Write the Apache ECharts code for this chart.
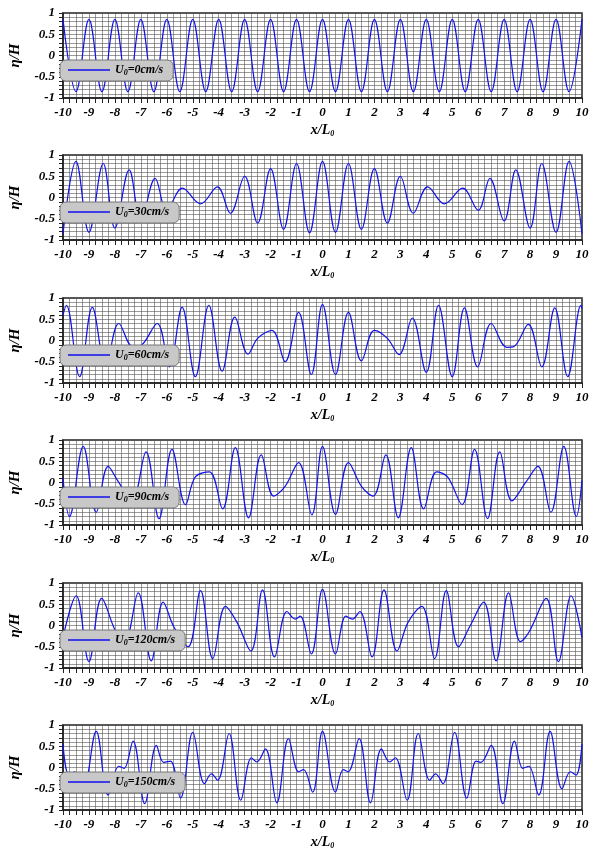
<!DOCTYPE html>
<html><head><meta charset="utf-8">
<script src="https://cdn.jsdelivr.net/npm/echarts@6/dist/echarts.min.js"></script>
<style>html,body{margin:0;padding:0;background:#fff}#c{width:600px;height:855px}</style>
</head><body><div id="c"></div>
<script>
const speeds = ['0','30','60','90','120','150'];
const xTickLabels = ['-10','-9','-8','-7','-6','-5','-4','-3','-2','-1','0','1','2','3','4','5','6','7','8','9','10'];
const yTickLabels = ['-1','-0.5','0','0.5','1'];

const p1x = [-10,-9.5,-9,-8.5,-8,-7.5,-7,-6.5,-6,-5.5,-5,-4.5,-4,-3.5,-3,-2.5,-2,-1.5,-1,-0.5,0,0.5,1,1.5,2,2.5,3,3.5,4,4.5,5,5.5,6,6.5,7,7.5,8,8.5,9,9.5,10];
const p1y = [0.85,-0.85,0.85,-0.85,0.85,-0.85,0.85,-0.85,0.85,-0.85,0.85,-0.85,0.85,-0.85,0.85,-0.85,0.85,-0.85,0.85,-0.85,0.85,-0.85,0.85,-0.85,0.85,-0.85,0.85,-0.85,0.85,-0.85,0.85,-0.85,0.85,-0.85,0.85,-0.85,0.85,-0.85,0.85,-0.85,0.85];

const p2x = [-10,-9.5,-9,-8.45,-8,-7.45,-7,-6.45,-6,-5.4,-4.7,-4.05,-3.55,-3,-2.5,-2,-1.5,-1,-0.5,0,0.5,1,1.5,2,2.5,3,3.5,4.05,4.7,5.4,6,6.45,7,7.45,8,8.45,9,9.5,10];
const p2y = [-0.85,0.85,-0.82,0.8,-0.72,0.65,-0.55,0.45,-0.3,0.22,-0.15,0.25,-0.37,0.5,-0.6,0.68,-0.75,0.8,-0.83,0.85,-0.82,0.8,-0.75,0.68,-0.6,0.5,-0.37,0.25,-0.15,0.22,-0.3,0.45,-0.55,0.65,-0.72,0.8,-0.82,0.85,-0.85];

const p3x = [-10,-9.87,-9.36,-8.87,-8.35,-7.85,-7.3,-7.0,-6.37,-5.9,-5.41,-4.9,-4.38,-3.87,-3.38,-2.87,-2.5,-1.95,-1.44,-0.92,-0.43,0,0.5,1.0,1.5,2.0,2.5,2.95,3.46,4.0,4.47,5.0,5.47,5.98,6.5,7.1,7.35,7.93,8.45,8.95,9.45,9.96,10];
const p3y = [0.6,0.83,-0.85,0.78,-0.6,0.4,-0.15,-0.12,0.4,-0.62,0.78,-0.85,0.83,-0.72,0.55,-0.32,0.05,0.24,-0.5,0.66,-0.8,0.85,-0.8,0.66,-0.48,0.24,0.05,-0.33,0.53,-0.75,0.83,-0.85,0.77,-0.62,0.4,-0.16,-0.15,0.38,-0.62,0.77,-0.85,0.83,0.75];

const p4x = [-10,-9.75,-9.22,-8.72,-8.26,-7.9,-7.35,-6.8,-6.3,-5.8,-5.28,-4.9,-4.36,-3.85,-3.36,-2.85,-2.36,-1.88,-1.44,-0.92,-0.41,0,0.5,1,1.5,1.95,2.44,2.92,3.42,3.9,4.4,4.82,5.38,5.86,6.36,6.83,7.3,7.85,8.3,8.8,9.3,9.78,10];
const p4y = [0.1,-0.8,0.85,-0.7,0.38,0.05,-0.43,0.72,-0.85,0.78,-0.52,0.13,0.25,-0.62,0.82,-0.83,0.65,-0.32,-0.09,0.47,-0.76,0.85,-0.75,0.47,-0.09,-0.32,0.65,-0.83,0.82,-0.62,0.25,0.13,-0.52,0.78,-0.85,0.72,-0.43,0.02,0.38,-0.7,0.85,-0.8,0.05];

const p5x = [-10,-9.49,-9.0,-8.51,-7.97,-7.63,-7.1,-6.6,-6.14,-5.73,-5.18,-4.7,-4.23,-3.74,-3.3,-2.76,-2.31,-1.85,-1.37,-1.05,-0.86,-0.43,0,0.5,0.9,1.15,1.44,1.91,2.37,2.87,3.3,3.83,4.32,4.77,5.24,5.67,6.21,6.69,7.17,7.63,7.97,8.62,9.09,9.58,10];
const p5y = [-0.28,0.7,-0.85,0.64,-0.14,-0.38,0.77,-0.83,0.55,-0.03,-0.5,0.82,-0.78,0.45,0.08,-0.6,0.84,-0.74,0.33,0.15,0.22,-0.67,0.85,-0.67,0.22,0.15,0.33,-0.74,0.84,-0.6,0.08,0.45,-0.78,0.82,-0.5,-0.03,0.55,-0.83,0.77,-0.38,-0.14,0.64,-0.85,0.7,-0.28];

const p6x = [-10,-9.77,-9.55,-9.23,-8.72,-8.26,-7.85,-7.65,-7.3,-6.85,-6.4,-6.12,-5.86,-5.47,-5.0,-4.55,-4.28,-4.04,-3.6,-3.15,-2.74,-2.53,-2.2,-1.76,-1.31,-0.92,-0.73,-0.38,0,0.5,0.8,0.99,1.41,1.85,2.27,2.59,2.81,3.26,3.69,4.13,4.36,4.64,5.09,5.56,5.92,6.1,6.5,6.95,7.4,7.72,7.95,8.33,8.77,9.23,9.55,9.77,10];
const p6y = [0.55,-0.18,-0.1,-0.5,0.85,-0.65,0.03,-0.02,0.62,-0.85,0.52,0.12,0.15,-0.72,0.83,-0.38,-0.15,-0.3,0.8,-0.77,0.23,0.13,0.44,-0.83,0.68,-0.1,-0.05,-0.58,0.85,-0.58,-0.05,-0.1,0.68,-0.83,0.44,0.13,0.23,-0.77,0.8,-0.3,-0.15,-0.38,0.83,-0.72,0.15,0.12,0.52,-0.85,0.62,-0.02,0.03,-0.65,0.85,-0.5,-0.1,-0.18,0.55];

const XS = [p1x,p2x,p3x,p4x,p5x,p6x];
const YS = [p1y,p2y,p3y,p4y,p5y,p6y];
const tops = [13,155,298,440,583,725];
const H = 85;
const FF = '"Liberation Serif","DejaVu Serif",serif';
const lab = {fontFamily:FF,fontWeight:'bold',fontStyle:'italic',fontSize:13,color:'#000'};
const LC = '#1010ee';

const grid=[],xAxis=[],yAxis=[],series=[],legend=[];
for(let i=0;i<6;i++){
  grid.push({left:57,right:18,top:tops[i],height:H,show:true,borderColor:'#222',borderWidth:1.5,backgroundColor:'#fff'});
  xAxis.push({gridIndex:i,type:'value',min:-10,max:10,interval:0.25,
    axisLine:{show:true,onZero:false,lineStyle:{color:'#222',width:1.5}},
    axisTick:{show:true,inside:false,length:5,lineStyle:{color:'#222'}},
    axisLabel:Object.assign({margin:8,formatter:v=>{const s=String(Math.round(v));return (Math.abs(v-Math.round(v))<1e-6 && xTickLabels.includes(s))?s:'';}},lab),
    splitLine:{show:true,lineStyle:{color:'#555',width:0.6}},
    name:'{a|x/L}{s|0}',nameLocation:'middle',nameGap:24,
    nameTextStyle:{rich:{a:Object.assign({},lab,{fontSize:14}),s:Object.assign({},lab,{fontSize:8,padding:[8,0,0,0]})}}
  });
  yAxis.push({gridIndex:i,type:'value',min:-1,max:1,interval:0.1,
    axisLine:{show:true,onZero:false,lineStyle:{color:'#222',width:1.5}},
    axisTick:{show:true,inside:false,length:4,lineStyle:{color:'#222'}},
    axisLabel:Object.assign({margin:8,formatter:v=>{const r=Math.round(v*10)/10;const s=String(r);return yTickLabels.includes(s)?s:'';}},lab),
    splitLine:{show:true,lineStyle:{color:'#555',width:0.6}},
    name:'η/H',nameLocation:'middle',nameGap:40,nameRotate:90,
    nameTextStyle:Object.assign({},lab,{fontSize:15})
  });
  const nm='U'+speeds[i];
  series.push({name:nm,type:'line',xAxisIndex:i,yAxisIndex:i,showSymbol:false,symbol:'none',smooth:0.38,
    lineStyle:{color:LC,width:1.2},itemStyle:{color:LC},
    data:XS[i].map((x,k)=>[x,YS[i][k]])});
  legend.push({data:[{name:nm,icon:'rect'}],left:60,top:tops[i]+47,backgroundColor:'#c8c8c8',borderColor:'#777',borderWidth:1,borderRadius:6,
    padding:[4,10,4,8],itemWidth:42,itemHeight:1.5,itemStyle:{color:LC},
    formatter:()=>'{a|U}{s|0}{a|='+speeds[i]+'cm/s}',
    textStyle:{rich:{a:Object.assign({},lab,{fontSize:12}),s:Object.assign({},lab,{fontSize:8,padding:[6,0,0,0]})}}});
}
const chart=echarts.init(document.getElementById('c'));
chart.setOption({animation:false,grid,xAxis,yAxis,series,legend});
</script></body></html>
